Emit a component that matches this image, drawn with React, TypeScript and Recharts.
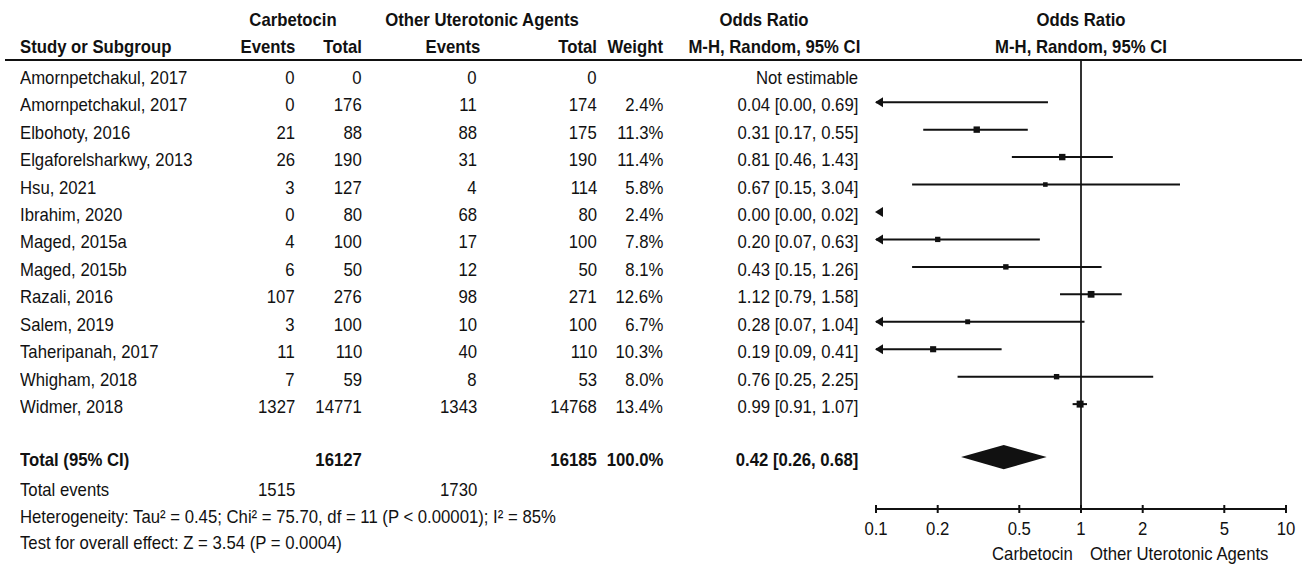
import React from "react";
import {
  ComposedChart,
  XAxis,
  YAxis,
  Scatter,
  ReferenceLine,
  ReferenceDot,
  ReferenceArea,
} from "recharts";

// study data
const studies = [
  "Amornpetchakul, 2017",
  "Amornpetchakul, 2017",
  "Elbohoty, 2016",
  "Elgaforelsharkwy, 2013",
  "Hsu, 2021",
  "Ibrahim, 2020",
  "Maged, 2015a",
  "Maged, 2015b",
  "Razali, 2016",
  "Salem, 2019",
  "Taheripanah, 2017",
  "Whigham, 2018",
  "Widmer, 2018",
];
const carbEvents = [0, 0, 21, 26, 3, 0, 4, 6, 107, 3, 11, 7, 1327];
const carbTotal = [0, 176, 88, 190, 127, 80, 100, 50, 276, 100, 110, 59, 14771];
const otherEvents = [0, 11, 88, 31, 4, 68, 17, 12, 98, 10, 40, 8, 1343];
const otherTotal = [0, 174, 175, 190, 114, 80, 100, 50, 271, 100, 110, 53, 14768];
const weights = [null, 2.4, 11.3, 11.4, 5.8, 2.4, 7.8, 8.1, 12.6, 6.7, 10.3, 8.0, 13.4];
const oddsRatio = [null, 0.04, 0.31, 0.81, 0.67, 0.0, 0.2, 0.43, 1.12, 0.28, 0.19, 0.76, 0.99];
const ciLow = [null, 0.0, 0.17, 0.46, 0.15, 0.0, 0.07, 0.15, 0.79, 0.07, 0.09, 0.25, 0.91];
const ciHigh = [null, 0.69, 0.55, 1.43, 3.04, 0.02, 0.63, 1.26, 1.58, 1.04, 0.41, 2.25, 1.07];

// pooled result
const pooled = { or: 0.42, lo: 0.26, hi: 0.68 };
const totalCarb = 16127;
const totalOther = 16185;
const eventsCarb = 1515;
const eventsOther = 1730;

const axisTicks = [0.1, 0.2, 0.5, 1, 2, 5, 10];
const X_MIN = 0.1;
const X_MAX = 10;

// layout
const W = 1302;
const H = 565;
const TOP = 61;
const ROW_H = 27.45;
const Y_MAX = (509 - TOP) / ROW_H;
const TOTAL_ROW = 14.43;
const FONT = "'Liberation Sans', Arial, sans-serif";
const SQUEEZE = 0.88; // the original uses a condensed face
const INK = "#111";

const rowPos = (i: number) => i + 0.5;
const rowPx = (r: number) => TOP + r * ROW_H + 3;

const markers = studies
  .map((s, i) => ({ x: oddsRatio[i], y: rowPos(i), side: weights[i] ? 1.9 * Math.sqrt(weights[i] as number) : 0 }))
  .filter((d) => d.x !== null && (d.x as number) >= X_MIN);

type TxtProps = { x: number; y: number; align?: "left" | "right" | "center"; bold?: boolean; children: React.ReactNode };

const Txt = ({ x, y, align = "right", bold, children }: TxtProps) => {
  const style: React.CSSProperties = {
    position: "absolute",
    top: y - 11,
    lineHeight: "22px",
    whiteSpace: "nowrap",
    fontFamily: FONT,
    fontSize: 19,
    fontWeight: bold ? 700 : 400,
    color: INK,
  };
  if (align === "right") {
    style.right = W - x;
    style.transformOrigin = "right center";
    style.transform = `scaleX(${SQUEEZE})`;
  } else if (align === "left") {
    style.left = x;
    style.transformOrigin = "left center";
    style.transform = `scaleX(${SQUEEZE})`;
  } else {
    style.left = x;
    style.transform = `translateX(-50%) scaleX(${SQUEEZE})`;
  }
  return <div style={style}>{children}</div>;
};

const Square = (props: any) => {
  const s = props.payload.side;
  return <rect x={props.cx - s / 2} y={props.cy - s / 2} width={s} height={s} fill={INK} />;
};

const Arrow = (props: any) => {
  const { cx, cy } = props;
  return <path d={`M${cx - 1},${cy} L${cx + 7},${cy - 5} L${cx + 7},${cy + 5} Z`} fill={INK} />;
};

const Diamond = (props: any) => {
  const { x, y, width, height } = props;
  const f = Math.log(pooled.or / pooled.lo) / Math.log(pooled.hi / pooled.lo);
  const mx = x + width * f;
  const my = y + height / 2;
  return <polygon points={`${x},${my} ${mx},${y} ${x + width},${my} ${mx},${y + height}`} fill={INK} />;
};

const AxisTick = (props: any) => {
  const { x, y, payload } = props;
  return (
    <g>
      <line x1={x} x2={x} y1={y - 4} y2={y + 4} stroke={INK} strokeWidth={2} />
      <text
        transform={`translate(${x},${y + 20}) scale(${SQUEEZE},1)`}
        textAnchor="middle"
        dominantBaseline="central"
        fontFamily={FONT}
        fontSize={19}
        fill={INK}
      >
        {payload.value}
      </text>
    </g>
  );
};

const fmt = (v: number) => v.toFixed(2);

export default function App() {
  return (
    <div style={{ position: "absolute", left: 0, top: 0, width: W, height: H, background: "#fff", overflow: "hidden" }}>
      <ComposedChart width={W} height={H} margin={{ top: TOP, right: 16, bottom: 0, left: 876 }}>
        <XAxis
          type="number"
          dataKey="x"
          scale="log"
          domain={[X_MIN, X_MAX]}
          allowDataOverflow
          ticks={axisTicks}
          interval={0}
          tick={(p: any) => <AxisTick {...p} />}
          tickLine={false}
          tickSize={0}
          tickMargin={0}
          height={56}
          axisLine={{ stroke: INK, strokeWidth: 2 }}
        />
        <YAxis type="number" dataKey="y" domain={[0, Y_MAX]} reversed hide />
        <ReferenceLine x={1} stroke="#333" strokeWidth={2} />
        {studies.map((s, i) => {
          const lo = ciLow[i];
          const hi = ciHigh[i];
          if (lo === null || hi === null) return null;
          if (hi < X_MIN) return null;
          return (
            <ReferenceLine
              key={"ci" + i}
              segment={[
                { x: Math.max(lo, X_MIN), y: rowPos(i) },
                { x: Math.min(hi, X_MAX), y: rowPos(i) },
              ]}
              stroke={INK}
              strokeWidth={2}
            />
          );
        })}
        {studies.map((s, i) => {
          const lo = ciLow[i];
          if (lo === null || lo >= X_MIN) return null;
          return <ReferenceDot key={"ar" + i} x={X_MIN} y={rowPos(i)} shape={(p: any) => <Arrow {...p} />} />;
        })}
        <Scatter data={markers} isAnimationActive={false} shape={(p: any) => <Square {...p} />} />
        <ReferenceArea
          x1={pooled.lo}
          x2={pooled.hi}
          y1={TOTAL_ROW - 0.44}
          y2={TOTAL_ROW + 0.44}
          shape={(p: any) => <Diamond {...p} />}
        />
      </ComposedChart>

      {/* header */}
      <Txt x={293} y={20} align="center" bold>Carbetocin</Txt>
      <Txt x={482} y={20} align="center" bold>Other Uterotonic Agents</Txt>
      <Txt x={764} y={20} align="center" bold>Odds Ratio</Txt>
      <Txt x={1081} y={20} align="center" bold>Odds Ratio</Txt>
      <Txt x={20} y={47} align="left" bold>Study or Subgroup</Txt>
      <Txt x={295} y={47} bold>Events</Txt>
      <Txt x={362} y={47} bold>Total</Txt>
      <Txt x={480} y={47} bold>Events</Txt>
      <Txt x={597} y={47} bold>Total</Txt>
      <Txt x={663} y={47} bold>Weight</Txt>
      <Txt x={860} y={47} bold>M-H, Random, 95% CI</Txt>
      <Txt x={1081} y={47} align="center" bold>M-H, Random, 95% CI</Txt>
      <div style={{ position: "absolute", left: 5, top: 59, width: W - 5, height: 2, background: INK }} />

      {/* study rows */}
      {studies.map((s, i) => {
        const y = rowPx(rowPos(i));
        const w = weights[i];
        const or = oddsRatio[i];
        return (
          <React.Fragment key={"row" + i}>
            <Txt x={20} y={y} align="left">{s}</Txt>
            <Txt x={295} y={y}>{carbEvents[i]}</Txt>
            <Txt x={362} y={y}>{carbTotal[i]}</Txt>
            <Txt x={477} y={y}>{otherEvents[i]}</Txt>
            <Txt x={597} y={y}>{otherTotal[i]}</Txt>
            {w !== null && <Txt x={663} y={y}>{w.toFixed(1)}%</Txt>}
            <Txt x={858} y={y}>
              {or === null ? "Not estimable" : `${fmt(or)} [${fmt(ciLow[i] as number)}, ${fmt(ciHigh[i] as number)}]`}
            </Txt>
          </React.Fragment>
        );
      })}

      {/* totals */}
      <Txt x={20} y={rowPx(TOTAL_ROW)} align="left" bold>Total (95% CI)</Txt>
      <Txt x={362} y={rowPx(TOTAL_ROW)} bold>{totalCarb}</Txt>
      <Txt x={597} y={rowPx(TOTAL_ROW)} bold>{totalOther}</Txt>
      <Txt x={663} y={rowPx(TOTAL_ROW)} bold>100.0%</Txt>
      <Txt x={858} y={rowPx(TOTAL_ROW)} bold>{`${fmt(pooled.or)} [${fmt(pooled.lo)}, ${fmt(pooled.hi)}]`}</Txt>
      <Txt x={20} y={490} align="left">Total events</Txt>
      <Txt x={295} y={490}>{eventsCarb}</Txt>
      <Txt x={477} y={490}>{eventsOther}</Txt>
      <Txt x={20} y={517} align="left">Heterogeneity: Tau² = 0.45; Chi² = 75.70, df = 11 (P &lt; 0.00001); I² = 85%</Txt>
      <Txt x={20} y={543} align="left">Test for overall effect: Z = 3.54 (P = 0.0004)</Txt>

      {/* axis direction labels */}
      <Txt x={1073} y={554}>Carbetocin</Txt>
      <Txt x={1090} y={554} align="left">Other Uterotonic Agents</Txt>
    </div>
  );
}
